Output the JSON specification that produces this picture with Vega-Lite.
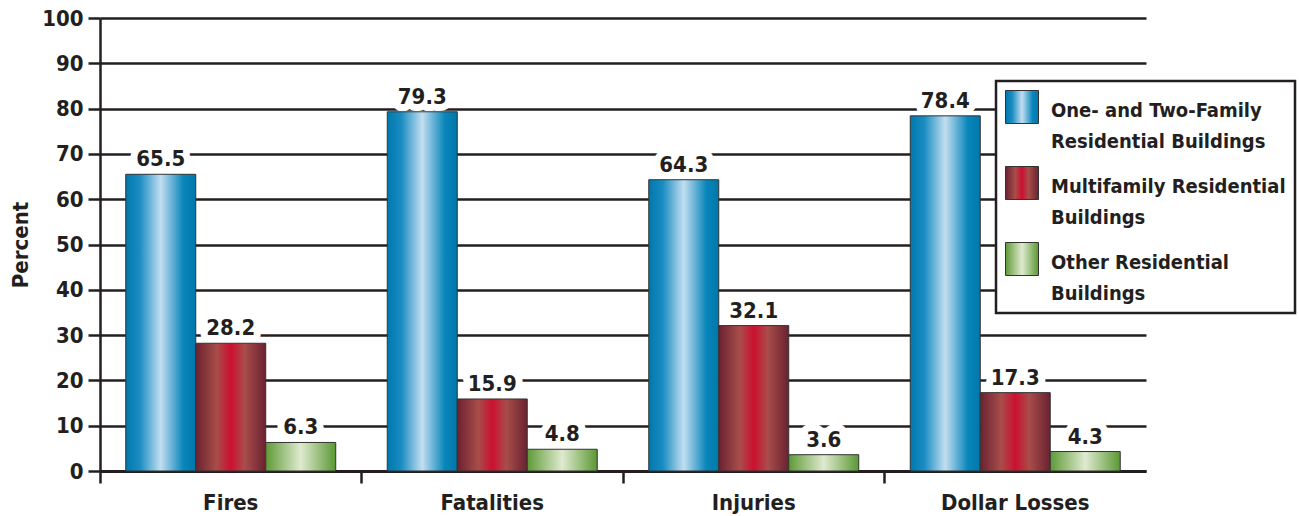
{
  "$schema": "https://vega.github.io/schema/vega-lite/v6.json",
  "autosize": "none",
  "width": 1046,
  "height": 453,
  "padding": {"left": 100, "top": 18, "right": 153, "bottom": 45},
  "background": "white",
  "config": {
    "view": {"stroke": null},
    "font": "DejaVu Sans Condensed, Roboto",
    "axis": {"labelFont": "DejaVu Sans Condensed, Roboto", "titleFont": "DejaVu Sans Condensed, Roboto"},
    "legend": {"labelFont": "DejaVu Sans Condensed, Roboto"}
  },
  "data": {
    "values": [
      {"category": "Fires", "series": "One- and Two-Family Residential Buildings", "value": 65.5},
      {"category": "Fires", "series": "Multifamily Residential Buildings", "value": 28.2},
      {"category": "Fires", "series": "Other Residential Buildings", "value": 6.3},
      {"category": "Fatalities", "series": "One- and Two-Family Residential Buildings", "value": 79.3},
      {"category": "Fatalities", "series": "Multifamily Residential Buildings", "value": 15.9},
      {"category": "Fatalities", "series": "Other Residential Buildings", "value": 4.8},
      {"category": "Injuries", "series": "One- and Two-Family Residential Buildings", "value": 64.3},
      {"category": "Injuries", "series": "Multifamily Residential Buildings", "value": 32.1},
      {"category": "Injuries", "series": "Other Residential Buildings", "value": 3.6},
      {"category": "Dollar Losses", "series": "One- and Two-Family Residential Buildings", "value": 78.4},
      {"category": "Dollar Losses", "series": "Multifamily Residential Buildings", "value": 17.3},
      {"category": "Dollar Losses", "series": "Other Residential Buildings", "value": 4.3}
    ]
  },
  "encoding": {
    "x": {
      "field": "category", "type": "nominal",
      "sort": ["Fires", "Fatalities", "Injuries", "Dollar Losses"],
      "scale": {"paddingInner": 0, "paddingOuter": 0},
      "axis": {
        "title": null, "labelAngle": 0, "bandPosition": 0,
        "labelFontSize": 22, "labelFontWeight": "bold", "labelColor": "#231f20",
        "labelPadding": 9, "tickSize": 12, "tickWidth": 2.5, "tickColor": "#231f20",
        "domainColor": "#231f20", "domainWidth": 3
      }
    },
    "xOffset": {
      "field": "series", "type": "nominal",
      "sort": ["One- and Two-Family Residential Buildings", "Multifamily Residential Buildings", "Other Residential Buildings"],
      "scale": {"paddingInner": 0, "paddingOuter": 0.368}
    },
    "y": {
      "field": "value", "type": "quantitative",
      "scale": {"domain": [0, 100], "nice": false},
      "axis": {
        "title": "Percent", "titleFontSize": 22, "titleFontWeight": "bold", "titleColor": "#231f20",
        "titlePadding": 9,
        "values": [0, 10, 20, 30, 40, 50, 60, 70, 80, 90, 100],
        "labelFontSize": 22, "labelFontWeight": "bold", "labelColor": "#231f20", "labelPadding": 5,
        "tickSize": 12, "tickWidth": 2.5, "tickColor": "#231f20",
        "grid": true, "gridColor": "#231f20", "gridWidth": 2.5,
        "domainColor": "#231f20", "domainWidth": 2.5
      }
    }
  },
  "layer": [
    {
      "mark": {"type": "bar", "stroke": "#333333", "strokeWidth": 1},
      "encoding": {
        "fill": {
          "field": "series", "type": "nominal",
          "scale": {
            "domain": ["One- and Two-Family Residential Buildings", "Multifamily Residential Buildings", "Other Residential Buildings"],
            "range": [
              {"expr": "{gradient: 'linear', x1: 0, y1: 0, x2: 1, y2: 0, stops: [{offset: 0, color: '#0078ad'}, {offset: 0.2, color: '#1a8cc2'}, {offset: 0.5, color: '#c2def1'}, {offset: 0.82, color: '#0a86bb'}, {offset: 1, color: '#0077aa'}]}"},
              {"expr": "{gradient: 'linear', x1: 0, y1: 0, x2: 1, y2: 0, stops: [{offset: 0, color: '#6a2230'}, {offset: 0.3, color: '#a84d4a'}, {offset: 0.5, color: '#cc1030'}, {offset: 0.7, color: '#a84d4a'}, {offset: 1, color: '#6a2230'}]}"},
              {"expr": "{gradient: 'linear', x1: 0, y1: 0, x2: 1, y2: 0, stops: [{offset: 0, color: '#5e9a36'}, {offset: 0.5, color: '#dfeacf'}, {offset: 1, color: '#5a9833'}]}"}
            ]
          },
          "legend": {
            "title": null, "orient": "none", "legendX": 896, "legendY": 63,
            "direction": "vertical",
            "fillColor": "white", "strokeColor": "#231f20",
            "padding": 9,
            "symbolType": "square", "symbolSize": 1089, "symbolStrokeColor": "#333333", "symbolStrokeWidth": 1,
            "labelFontSize": 20, "labelFontWeight": "bold", "labelColor": "#231f20", "labelLimit": 400,
            "labelOffset": 12, "rowPadding": 12, "labelBaseline": "top",
            "labelExpr": "datum.label == 'One- and Two-Family Residential Buildings' ? ['One- and Two-Family', 'Residential Buildings'] : datum.label == 'Multifamily Residential Buildings' ? ['Multifamily Residential', 'Buildings'] : ['Other Residential', 'Buildings']",
            "encode": {
              "labels": {"update": {"lineHeight": {"value": 31}, "dy": {"value": -6}}},
              "legend": {"update": {"strokeWidth": {"value": 2.5}}}
            }
          }
        }
      }
    },
    {
      "mark": {"type": "text", "baseline": "alphabetic", "dy": -8, "fontSize": 22, "fontWeight": "bold", "stroke": "white", "strokeWidth": 14, "strokeJoin": "round", "fill": "white"},
      "encoding": {"text": {"field": "value", "type": "quantitative", "format": ".1f"}}
    },
    {
      "mark": {"type": "text", "baseline": "alphabetic", "dy": -8, "fontSize": 22, "fontWeight": "bold", "fill": "#231f20"},
      "encoding": {"text": {"field": "value", "type": "quantitative", "format": ".1f"}}
    },
    {
      "data": {"values": [{"category": "Dollar Losses"}]},
      "mark": {"type": "rule", "color": "#231f20", "strokeWidth": 2.5},
      "encoding": {
        "x": {"field": "category", "type": "nominal", "bandPosition": 1},
        "xOffset": null,
        "y": {"datum": 100},
        "y2": {"datum": -2.6}
      }
    }
  ]
}
